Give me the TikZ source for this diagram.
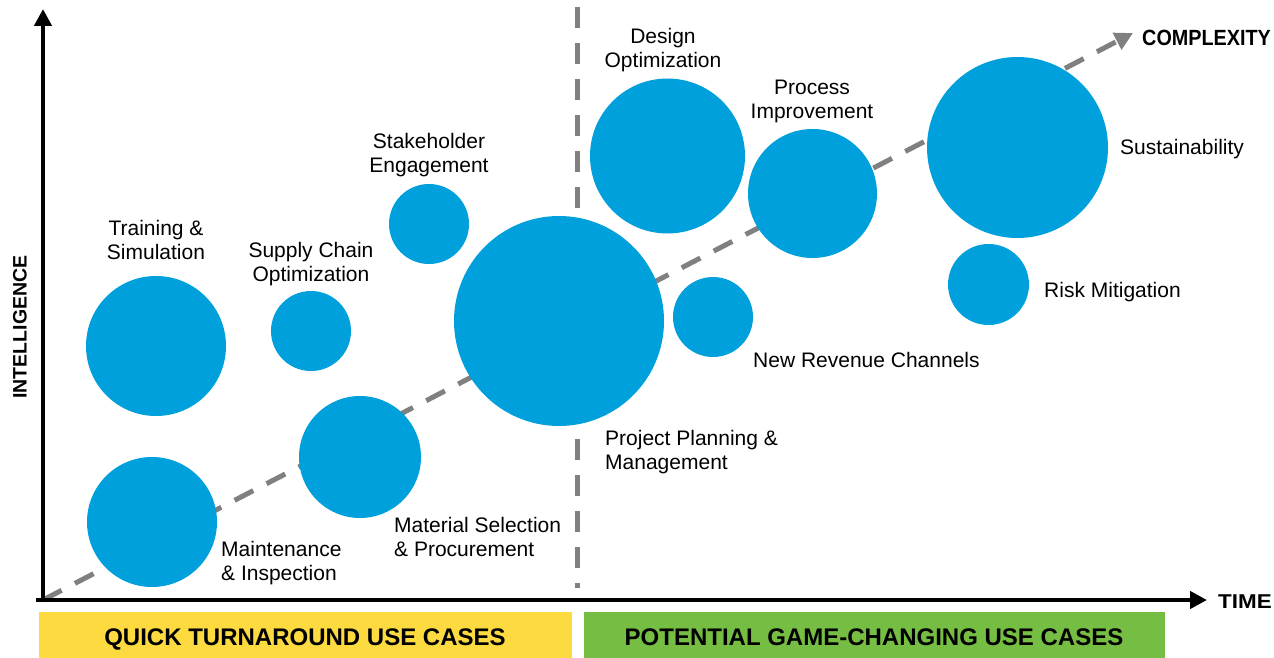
\documentclass[tikz,border=0pt]{standalone}
\usepackage{fontspec}
\setmainfont{Liberation Sans}
\usetikzlibrary{arrows.meta}
\definecolor{bubble}{RGB}{0,160,220}
\definecolor{dashgray}{RGB}{128,128,128}
\definecolor{bandyellow}{RGB}{253,218,64}
\definecolor{bandgreen}{RGB}{118,189,67}
\tikzset{
  bub/.style={circle, fill=bubble, draw=none, inner sep=0pt},
  lbl/.style={inner sep=0pt, font=\fontsize{21}{24}\selectfont, align=center},
  lbll/.style={inner sep=0pt, font=\fontsize{21}{24}\selectfont, align=left, anchor=west},
  axislbl/.style={inner sep=0pt, font=\bfseries},
  axisline/.style={line width=4.5pt, black, -{Triangle[length=17pt,width=17pt]}},
  dashline/.style={line width=5pt, dashgray, dash pattern=on 21pt off 15pt},
  band/.style={draw=none, inner sep=0pt, font=\fontsize{24}{28}\selectfont\bfseries},
}
\begin{document}
\begin{tikzpicture}[x=1pt,y=-1pt]
\useasboundingbox (0,0) rectangle (1274,658);
% coordinates
\coordinate (origin) at (43,600);
\coordinate (ytip) at (43,9);
\coordinate (xtip) at (1207,600);
\coordinate (xstart) at (36,600);
\coordinate (ystart) at (43,602);
\coordinate (dtop) at (577,7);
\coordinate (dbot) at (577,588);
\coordinate (ctip) at (1133,33);
% bands
\fill[bandyellow] (39,612) rectangle (572,658);
\fill[bandgreen] (584,612) rectangle (1165,658);
\node[band] (qt) at (305,639) {QUICK TURNAROUND USE CASES};
\node[band] (gc) at (874,637) {POTENTIAL GAME-CHANGING USE CASES};
% dashed lines
\draw[dashline] (dtop) -- (dbot);
\draw[dashline, -{Triangle[length=18pt,width=18pt]}] (origin) -- (ctip);
% axes
\draw[axisline] (ystart) -- (ytip);
\draw[axisline] (xstart) -- (xtip);
% bubbles
\node[bub, minimum size=140pt] (train) at (156,346) {};
\node[bub, minimum size=130pt] (maint) at (152,522) {};
\node[bub, minimum size=80pt] (supply) at (311,331) {};
\node[bub, minimum size=122pt] (mat) at (360,457) {};
\node[bub, minimum size=80pt] (stake) at (429,224) {};
\node[bub, minimum size=210pt] (proj) at (559,321) {};
\node[bub, minimum size=155pt] (design) at (667.5,156) {};
\node[bub, minimum size=129pt] (proc) at (812.5,193.5) {};
\node[bub, minimum size=80pt] (rev) at (713,317) {};
\node[bub, minimum size=181pt] (sust) at (1017.5,147.5) {};
\node[bub, minimum size=81pt] (risk) at (988.5,284.5) {};
% labels
\node[lbl] (trainl) at (156,240) {Training \&\\Simulation};
\node[lbl] (supplyl) at (311,264) {Supply Chain\\Optimization};
\node[lbl] (stakel) at (429,155) {Stakeholder\\Engagement};
\node[lbl] (designl) at (663,50) {Design\\Optimization};
\node[lbl] (procl) at (812,101) {Process\\Improvement};
\node[lbll] (sustl) at (1120,149) {Sustainability};
\node[lbll] (riskl) at (1044,292) {Risk Mitigation};
\node[lbll] (revl) at (753,360) {New Revenue Channels};
\node[lbll] (projl) at (605,452) {Project Planning \&\\Management};
\node[lbll] (matl) at (394,537) {Material Selection\\\& Procurement};
\node[lbll] (maintl) at (221,563) {Maintenance\\\& Inspection};
% axis labels
\node[axislbl, anchor=west, font=\fontsize{22}{26}\selectfont\bfseries] (cx) at (1142,38) {\scalebox{0.9}[1]{COMPLEXITY}};
\node[axislbl, anchor=west, font=\fontsize{20}{24}\selectfont\bfseries] (tm) at (1218,602) {\scalebox{1.12}[1]{TIME}};
\node[axislbl, rotate=90, font=\fontsize{19.5}{24}\selectfont\bfseries] (intel) at (20,327) {INTELLIGENCE};
\end{tikzpicture}
\end{document}
